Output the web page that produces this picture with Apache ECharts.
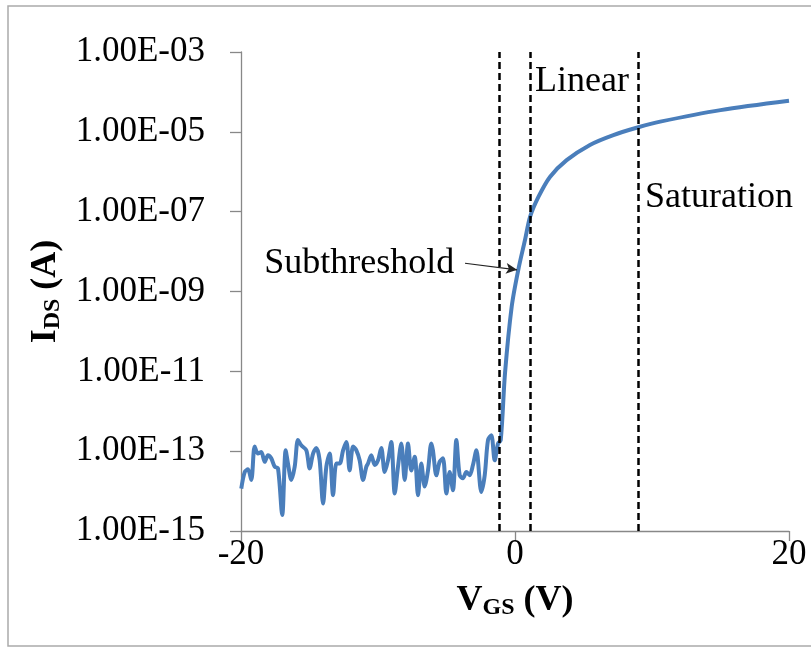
<!DOCTYPE html>
<html>
<head>
<meta charset="utf-8">
<script src="https://cdn.jsdelivr.net/npm/echarts@6/dist/echarts.min.js"></script>
<style>html,body{margin:0;padding:0;background:#fff}#c{width:811px;height:647px}</style>
</head>
<body>
<div id="c"></div>
<script>
// V_GS (V) and I_DS (A) — off-state noise floor
const vgsNoise = [-19.98,-19.73,-19.49,-19.25,-19.00,-18.76,-18.52,-18.27,-18.03,-17.79,-17.54,-17.30,-16.99,-16.74,-16.57,-16.33,-16.08,-15.84,-15.60,
  -15.23,-14.99,-14.74,-14.50,-14.26,-14.01,-13.77,-13.53,-13.28,-13.04,-12.80,-12.55,-12.31,-12.07,-11.82,-11.58,-11.34,-11.09,-10.85,
  -10.73,-10.49,-10.24,-10.00,-9.76,-9.51,-9.27,-9.03,-8.78,-8.54,-8.30,-8.05,-7.81,-7.57,-7.32,-7.08,-6.84,-6.59,-6.35,-6.11,
  -5.99,-5.74,-5.50,-5.26,-5.01,-4.77,-4.53,-4.28,-4.04,-3.80,-3.55,-3.31,-3.07,-2.82,-2.46,-2.21,-1.97,-1.73,-1.48,-1.24];
const idsNoise = [1.15e-14,3.0e-14,3.5e-14,1.9e-14,1.3e-13,8.7e-14,9.5e-14,5.4e-14,7.9e-14,6.6e-14,4.1e-14,3.7e-14,2.5e-15,1.05e-13,4.9e-14,1.9e-14,4.1e-14,1.9e-13,1.4e-13,
  1.05e-13,3.7e-14,8.7e-14,1.2e-13,5.9e-14,4.9e-15,4.1e-14,8.7e-14,7.9e-15,4.9e-14,4.9e-14,1.05e-13,1.7e-13,3.3e-14,1.3e-13,1.05e-13,5.9e-14,1.9e-14,4.1e-14,
  4.9e-14,7.9e-14,4.5e-14,5.9e-14,1.2e-13,3.0e-14,5.9e-14,1.7e-13,8.7e-15,4.1e-14,1.55e-13,1.9e-14,1.55e-13,3.3e-14,7.2e-14,7.9e-15,4.9e-14,1.3e-14,3.3e-14,1.55e-13,
  1.05e-13,2.5e-14,5.4e-14,6.6e-14,8.7e-15,3.0e-14,1.05e-14,1.9e-13,2.5e-14,2.1e-14,3.0e-14,2.5e-14,4.5e-14,1.05e-13,9.5e-15,2.5e-14,1.9e-13,2.5e-13,5.9e-14,1.55e-13];
// Turn-on and on-state
const vgsOn = [-1.04,-0.73,-0.24,0.24,0.73,1.10,1.70,2.55,3.77,5.47,7.18,9.00,10.6,15.0,20.0];
const idsOn = [1.9e-13,8.9e-12,4.2e-10,3.5e-9,1.95e-8,7.4e-8,2.3e-7,7.4e-7,1.95e-6,4.7e-6,8.3e-6,1.3e-5,1.8e-5,3.5e-5,6.0e-5];

const xTicks = [-20, 0, 20];
const yTickExps = [-15, -13, -11, -9, -7, -5, -3];
const yTickLabels = ['1.00E-15','1.00E-13','1.00E-11','1.00E-09','1.00E-07','1.00E-05','1.00E-03'];

const regionBounds = [-1.17, 1.10, 8.98];
const regionNames = ['Subthreshold', 'Linear', 'Saturation'];
const regionLabelAt = [[-18.3, 5.1e-9], [1.46, 1.78e-4], [9.49, 2.3e-7]];
const arrowFrom = [-3.65, 5.1e-9];
const arrowTo = [0.15, 3.5e-9];

const FONT = 'Liberation Serif';
const data = [];
vgsNoise.forEach((v, i) => data.push([v, idsNoise[i]]));
vgsOn.forEach((v, i) => data.push([v, idsOn[i]]));

const chart = echarts.init(document.getElementById('c'), null, {renderer: 'canvas'});
chart.setOption({
  animation: false,
  backgroundColor: '#fff',
  grid: {left: 241, right: 22, top: 52, bottom: 116, containLabel: false},
  graphic: [{
    type: 'rect', shape: {x: 8, y: 6, width: 820, height: 640},
    style: {fill: 'none', stroke: '#ababab', lineWidth: 1.5}, silent: true, z: -1
  }],
  xAxis: {
    type: 'value', min: -20, max: 20, interval: 20,
    axisLine: {show: true, onZero: false, lineStyle: {color: '#888', width: 1.3}},
    axisTick: {show: true, inside: false, length: 10, lineStyle: {color: '#888', width: 1.3}},
    splitLine: {show: false},
    axisLabel: {
      fontFamily: FONT, fontSize: 35, color: '#000', margin: 6,
      formatter: v => xTicks.includes(v) ? String(v) : ''
    },
    name: '{a|V}{b|GS}{a| (V)}', nameLocation: 'middle', nameGap: 50,
    nameTextStyle: {
      rich: {
        a: {fontFamily: FONT, fontSize: 36, fontWeight: 'bold', color: '#000', lineHeight: 40},
        b: {fontFamily: FONT, fontSize: 24, fontWeight: 'bold', color: '#000', lineHeight: 40, padding: [14, 0, 0, 0]}
      }
    }
  },
  yAxis: {
    type: 'log', logBase: 10, min: 1e-15, max: 1e-3, interval: 2,
    axisLine: {show: true, onZero: false, lineStyle: {color: '#888', width: 1.3}},
    axisTick: {show: true, inside: false, length: 11, lineStyle: {color: '#888', width: 1.3}},
    splitLine: {show: false},
    minorTick: {show: false},
    axisLabel: {
      fontFamily: FONT, fontSize: 35, color: '#000', margin: 36,
      formatter: v => {
        const e = Math.round(Math.log10(v));
        const i = yTickExps.indexOf(e);
        return i >= 0 ? yTickLabels[i] : '';
      }
    },
    name: '{a|I}{b|DS}{a| (A)}', nameLocation: 'middle', nameGap: 173, nameRotate: 90,
    nameTextStyle: {
      rich: {
        a: {fontFamily: FONT, fontSize: 36, fontWeight: 'bold', color: '#000', lineHeight: 40},
        b: {fontFamily: FONT, fontSize: 24, fontWeight: 'bold', color: '#000', lineHeight: 40, padding: [14, 0, 0, 0]}
      }
    }
  },
  series: [{
    type: 'line', data: data, smooth: 0.3, showSymbol: false, clip: false,
    lineStyle: {color: '#4a7ebb', width: 4},
    itemStyle: {color: '#4a7ebb'},
    markLine: {
      silent: true, animation: false,
      label: {show: false},
      data: regionBounds.map((x) => [
        {coord: [x, 1e-15], symbol: 'none', lineStyle: {color: '#000', width: 2.5, type: [7, 4]}},
        {coord: [x, 1e-3], symbol: 'none'}
      ]).concat([[
        {coord: arrowFrom, symbol: 'none', lineStyle: {color: '#222', width: 1.2, type: 'solid'}},
        {coord: arrowTo, symbol: 'arrow', symbolSize: [8, 11]}
      ]])
    },
    markPoint: {
      silent: true, animation: false,
      data: regionNames.map((n, i) => ({
        coord: regionLabelAt[i], symbol: 'circle', symbolSize: 0,
        label: {show: true, position: 'right', distance: 0, formatter: n,
          fontFamily: FONT, fontSize: 36, color: '#000'}
      }))
    }
  }]
});
</script>
</body>
</html>
